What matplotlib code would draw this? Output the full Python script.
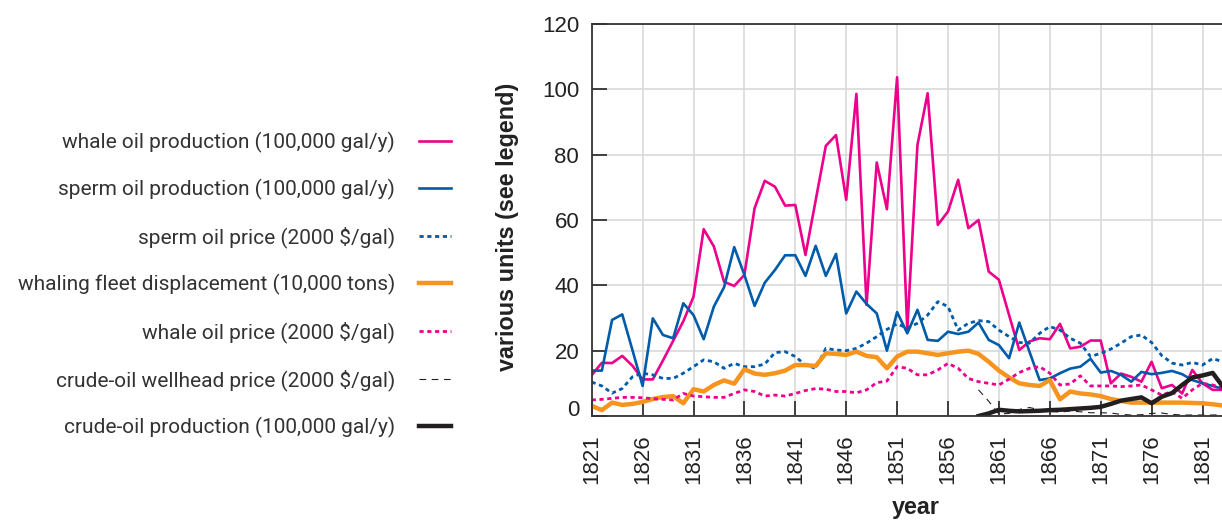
import matplotlib

matplotlib.use("Agg")
import matplotlib.pyplot as plt  # noqa: E402

# ---------------------------------------------------------------------------
# Data (1821-1883; values in the legend's units).
# ---------------------------------------------------------------------------
years = list(range(1821, 1884))

whale_oil_production = [
    12.5, 16.3, 16.2, 18.4, 15.4, 11.2, 11.2, 17.0, 23.0, 29.0,
    36.5, 57.2, 51.9, 41.1, 39.8, 43.2, 63.6, 72.0, 70.2, 64.4,
    64.6, 49.3, 66.0, 82.7, 86.0, 66.2, 98.6, 34.0, 77.6, 63.3,
    103.7, 26.5, 83.0, 98.8, 58.5, 62.6, 72.3, 57.5, 60.0, 44.2,
    41.7, 30.9, 20.2, 22.8, 23.8, 23.5, 28.2, 20.7, 21.2, 23.1,
    23.1, 10.0, 13.0, 12.0, 10.5, 16.6, 8.5, 9.5, 6.9, 14.1,
    10.0, 8.0, 8.0,
]
sperm_oil_production = [
    13.9, 13.9, 29.4, 31.1, 20.2, 9.2, 29.9, 24.8, 23.8, 34.5,
    30.9, 23.5, 33.5, 39.4, 51.7, 43.2, 33.7, 40.8, 44.7, 49.2,
    49.2, 42.9, 52.1, 42.9, 49.6, 31.4, 38.1, 34.3, 31.4, 20.0,
    31.8, 25.3, 32.5, 23.3, 23.0, 25.8, 25.1, 25.8, 28.6, 23.3,
    21.7, 17.7, 28.6, 19.7, 11.0, 11.5, 13.1, 14.5, 15.1, 17.5,
    13.3, 13.8, 12.6, 10.5, 13.5, 12.8, 13.2, 13.8, 12.8, 11.0,
    10.0, 9.2, 8.3,
]
sperm_oil_price = [
    10.4, 9.2, 7.0, 8.4, 12.0, 13.1, 12.6, 11.5, 11.5, 13.1,
    15.1, 17.2, 16.6, 14.6, 16.1, 15.1, 15.1, 15.9, 19.4, 19.7,
    18.2, 15.6, 14.6, 20.7, 20.2, 20.0, 20.7, 22.3, 24.3, 26.5,
    28.2, 26.9, 28.4, 30.9, 35.0, 33.5, 26.3, 28.4, 29.2, 28.9,
    26.3, 24.3, 22.5, 22.3, 25.3, 27.4, 26.3, 23.8, 22.3, 18.2,
    19.2, 20.5, 22.3, 24.3, 24.8, 22.5, 18.5, 16.2, 15.6, 16.4,
    15.6, 17.6, 16.6,
]
fleet_displacement = [
    3.1, 1.8, 4.1, 3.4, 3.7, 4.3, 5.2, 5.8, 6.1, 3.9,
    8.2, 7.5, 9.5, 10.9, 9.9, 14.3, 13.0, 12.6, 13.1, 13.9,
    15.6, 15.6, 15.3, 19.2, 19.0, 18.7, 19.7, 18.4, 18.0, 14.6,
    18.2, 19.7, 19.7, 19.2, 18.7, 19.2, 19.7, 20.0, 19.0, 16.6,
    13.9, 11.8, 10.0, 9.5, 9.2, 11.0, 5.1, 7.5, 6.9, 6.6,
    6.1, 5.2, 4.6, 4.1, 4.1, 4.1, 4.1, 4.1, 4.1, 4.0,
    3.9, 3.6, 3.2,
]
whale_oil_price = [
    4.9, 5.1, 5.4, 5.7, 5.7, 5.6, 5.3, 5.1, 4.9, 6.9,
    6.1, 5.9, 5.7, 5.7, 6.9, 8.0, 7.5, 6.1, 6.4, 6.1,
    6.9, 7.8, 8.4, 8.2, 7.5, 7.5, 7.1, 8.0, 10.2, 10.7,
    15.1, 14.6, 12.6, 12.6, 14.1, 16.1, 14.6, 11.5, 10.5, 10.0,
    9.5, 11.3, 13.3, 14.6, 15.1, 13.1, 9.5, 9.8, 12.3, 9.2,
    9.2, 9.2, 9.0, 9.2, 9.5, 8.0, 6.4, 7.5, 5.4, 8.0,
    10.0, 9.5, 8.5,
]
crude_years = list(range(1859, 1884))
crude_wellhead_price = [
    8.0, 4.5, 0.6, 0.8, 2.0, 2.6, 1.9, 1.4, 1.2, 1.5,
    1.3, 1.0, 1.0, 0.9, 0.5, 0.3, 0.4, 0.8, 0.9, 0.5,
    0.3, 0.3, 0.3, 0.3, 0.4,
]
crude_oil_production = [
    0.0, 0.8, 1.9, 1.6, 1.4, 1.5, 1.6, 1.8, 1.9, 2.1,
    2.3, 2.5, 2.8, 3.7, 4.7, 5.2, 5.7, 3.9, 5.9, 7.0,
    9.5, 11.8, 12.4, 13.2, 9.0,
]

labels = [
    "whale oil production (100,000 gal/y)",
    "sperm oil production (100,000 gal/y)",
    "sperm oil price (2000 $/gal)",
    "whaling fleet displacement (10,000 tons)",
    "whale oil price (2000 $/gal)",
    "crude-oil wellhead price (2000 $/gal)",
    "crude-oil production (100,000 gal/y)",
]

MAGENTA = "#EC008C"
BLUE = "#005BAA"
ORANGE = "#F7941D"
BLACK = "#231F20"
GRID = "#D9D9D9"
AXIS = "#333333"
TEXT = "#333333"

plt.rcParams["font.family"] = ["Liberation Sans", "DejaVu Sans"]

fig = plt.figure(figsize=(12.22, 5.21), dpi=100)
# Plot area runs off the right edge, as in the cropped original.
ax = fig.add_axes([591.7 / 1222, 1 - 416 / 521, 1 - 591.7 / 1222, 392 / 521])

h_whale, = ax.plot(years, whale_oil_production, color=MAGENTA, lw=1.9)
h_sperm, = ax.plot(years, sperm_oil_production, color=BLUE, lw=1.9)
h_sprice, = ax.plot(years, sperm_oil_price, color=BLUE, lw=2.0,
                    dashes=(1.5, 1.3))
h_fleet, = ax.plot(years, fleet_displacement, color=ORANGE, lw=3.2)
h_wprice, = ax.plot(years, whale_oil_price, color=MAGENTA, lw=2.0,
                    dashes=(1.5, 1.3))
h_crude_p, = ax.plot(crude_years, crude_wellhead_price, color=BLACK, lw=0.8,
                     dashes=(6, 5))
h_crude, = ax.plot(crude_years, crude_oil_production, color=BLACK, lw=3.2)

ax.set_xlim(1821, 1821 + (1222 - 591.7) / 10.18)
ax.set_ylim(0, 120)
ax.set_xticks(range(1821, 1883, 5))
ax.set_yticks(range(0, 121, 20))
ax.tick_params(axis="x", direction="in", length=11, width=1.3, color=AXIS,
               labelrotation=90, labelsize=16, pad=13, labelcolor="#222222")
ax.tick_params(axis="y", direction="in", length=11, width=1.3, color=AXIS,
               labelsize=16, pad=9, labelcolor="#222222")
# the "0" label sits on the baseline, just above the x axis
ax.get_yticklabels()[0].set_verticalalignment("baseline")
ax.grid(True, color=GRID, lw=1.2)
ax.set_axisbelow(True)
for side in ("left", "bottom", "top"):
    ax.spines[side].set_color(AXIS)
    ax.spines[side].set_linewidth(1.3)
ax.spines["right"].set_visible(False)

ax.set_ylabel("various units (see legend)", fontsize=16.8, fontweight="bold",
              color="#222222", va="center")
ax.yaxis.set_label_coords(-0.133, 0.482)
ax.set_xlabel("year", fontsize=16.8, fontweight="bold", color="#222222")
ax.xaxis.set_label_coords(0.5145, -0.205)

# Legend on the left: right-aligned labels, line samples after the text.
handles = [h_whale, h_sperm, h_sprice, h_fleet, h_wprice, h_crude_p, h_crude]
fig.legend(
    handles, labels,
    loc="center right",
    bbox_to_anchor=(451 / 1222, 1 - 285 / 521),
    markerfirst=False,
    alignment="right",
    frameon=False,
    borderpad=0,
    borderaxespad=0,
    handlelength=1.55,
    handletextpad=1.15,
    labelspacing=1.26,
    prop={"family": ["Roboto", "DejaVu Sans"], "size": 15},
    labelcolor=TEXT,
)

fig.savefig("out.png", dpi=100)
